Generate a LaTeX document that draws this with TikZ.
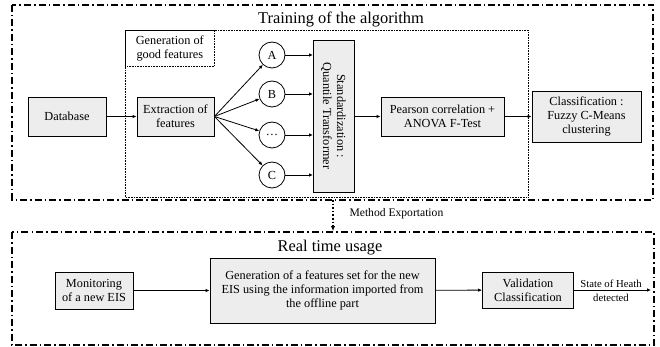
\documentclass[tikz,border=0pt]{standalone}
\usepackage{fontspec}
\setmainfont{Liberation Serif}
\usetikzlibrary{arrows.meta}
\definecolor{boxgray}{HTML}{EDEDED}
\tikzset{
  frame/.style={line width=1.3pt, dash pattern=on 7pt off 3pt on 1.5pt off 3pt},
  gbox/.style={draw, line width=0.8pt, fill=boxgray, align=center, font=\fontsize{12.3}{14}\selectfont, inner sep=0pt},
  circ/.style={draw, circle, line width=0.8pt, minimum size=26pt, inner sep=0pt, font=\fontsize{12.3}{14}\selectfont},
  arr/.style={-{Latex[length=4pt,width=3.5pt]}, line width=0.8pt},
  title/.style={font=\fontsize{16.4}{19}\selectfont},
  small/.style={font=\fontsize{11.6}{13}\selectfont, align=center},
}
\begin{document}
\begin{tikzpicture}[x=1pt,y=-1pt]
\useasboundingbox (0,0) rectangle (660,347);
% frames
\draw[frame] (12,5) rectangle (653,200);
\draw[frame] (12,232) rectangle (654,345);
\node[title] (t1) at (341,19) {Training of the algorithm};
\node[title] (t2) at (330,248) {Real time usage};
% inner dotted box
\draw[densely dotted, line width=0.6pt] (125,30) rectangle (528,197);
\node[draw, densely dotted, line width=0.6pt, minimum width=89pt, minimum height=36pt, anchor=north west, align=center, inner sep=0pt, font=\fontsize{12.3}{14}\selectfont] (gen) at (125,30) {Generation of\\good features};
% nodes
\node[gbox, minimum width=78pt, minimum height=39pt] (db) at (67,116.5) {Database};
\node[gbox, minimum width=77pt, minimum height=39pt] (ext) at (175.5,116.5) {Extraction of\\features};
\node[circ] (A) at (272,55) {A};
\node[circ] (B) at (272,94) {B};
\node[circ] (D) at (272,135) {\dots};
\node[circ] (C) at (272,175) {C};
\node[draw, line width=0.8pt, fill=boxgray, minimum width=41pt, minimum height=152pt, anchor=north west] (std) at (313,40) {};
\node[rotate=-90, align=center, font=\fontsize{12.3}{14}\selectfont] (stdt) at (333.5,116) {Standardization :\\Quantile Transformer};
\node[gbox, minimum width=123pt, minimum height=39pt] (pc) at (442.5,116.5) {Pearson correlation +\\ANOVA F-Test};
\node[gbox, minimum width=109pt, minimum height=51pt] (cl) at (586.5,116.5) {Classification :\\Fuzzy C-Means\\clustering};
% bottom
\node[gbox, minimum width=78pt, minimum height=37pt] (mon) at (94,290.5) {Monitoring\\of a new EIS};
\node[gbox, minimum width=225pt, minimum height=65pt] (gfs) at (322.5,290.5) {Generation of a features set for the new\\EIS using the information imported from\\the offline part};
\node[gbox, minimum width=91pt, minimum height=36pt] (val) at (528,290) {Validation\\Classification};
\coordinate (out) at (651,290);
\node[align=center, font=\fontsize{10.7}{13.5}\selectfont] (soh) at (611,291) {State of Heath\\detected};
% arrows
\draw[arr] (db) -- (ext);
\foreach \n in {A,B,D,C} {
  \draw[arr] (ext.east) -- (\n);
  \draw[arr] (\n.east) -- (\n.east -| std.west);
}
\draw[arr] (std.east |- pc.west) -- (pc.west);
\draw[arr] (pc) -- (cl);
\draw[arr] (mon) -- (gfs);
\draw[arr] (gfs) -- (val);
\draw[arr] (val.east) -- (out);
% method exportation
\coordinate (me1) at (333,200);
\coordinate (me2) at (333,231);
\draw[-{Latex[length=5pt,width=4.5pt]}, line width=1.6pt, dotted] (me1) -- (me2);
\node[small, anchor=west] (mel) at (346,214) {Method Exportation};
\end{tikzpicture}
\end{document}
